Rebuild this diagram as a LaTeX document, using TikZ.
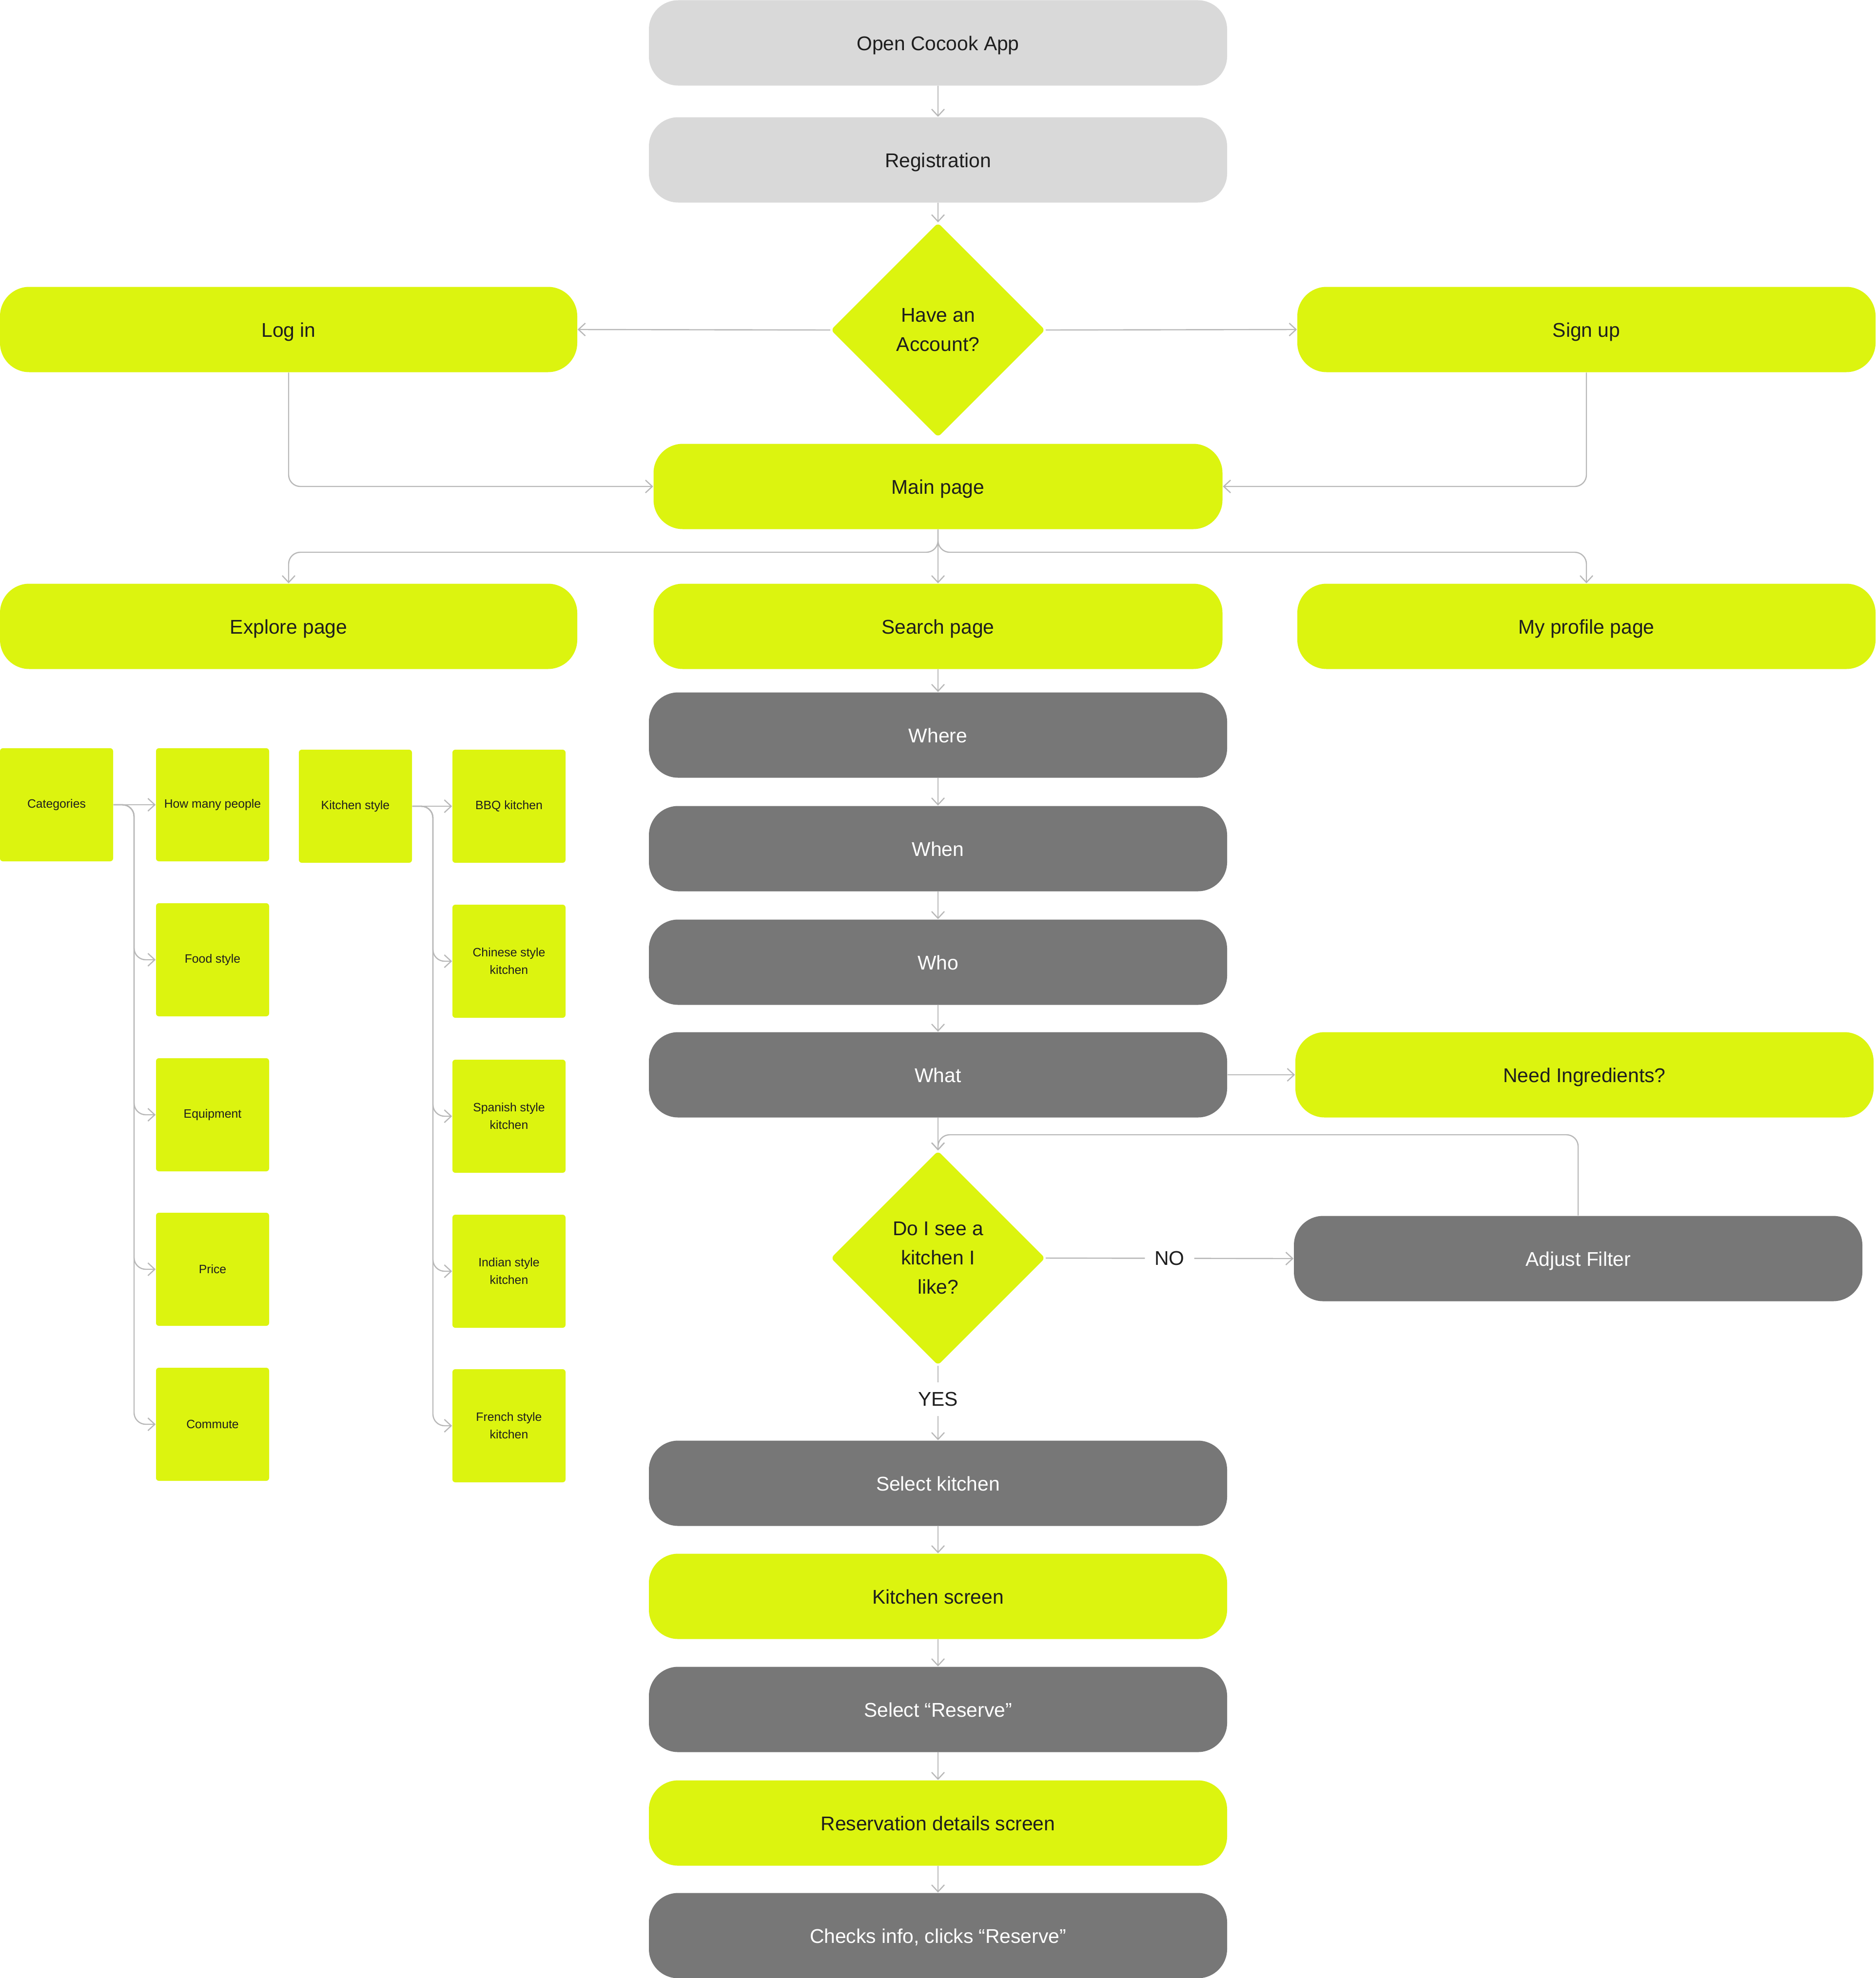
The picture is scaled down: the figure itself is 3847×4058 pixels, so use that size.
\documentclass[tikz,border=0pt]{standalone}
\usepackage{fontspec}
\setmainfont{Liberation Sans}
\usetikzlibrary{shapes.geometric,arrows.meta}
\definecolor{lime}{HTML}{DCF40F}
\definecolor{boxgray}{HTML}{D9D9D9}
\definecolor{boxdark}{HTML}{777777}
\definecolor{linegray}{HTML}{B8B8B8}
\definecolor{ink}{HTML}{1E1E1E}
\newcommand{\bigtxt}{\fontsize{10.2pt}{15pt}\selectfont}
\newcommand{\smalltxt}{\fontsize{6.2pt}{9pt}\selectfont}
\tikzset{
  pill/.style={rounded corners=15pt, minimum height=43.75pt, inner sep=0pt, font=\bigtxt, align=center, text height=9pt, text depth=1.2pt},
  lightbox/.style={pill, fill=boxgray, text=ink, minimum width=296.5pt},
  limebox/.style={pill, fill=lime, text=ink},
  darkbox/.style={pill, fill=boxdark, text=white, minimum width=296.5pt},
  sqbox/.style={fill=lime, rounded corners=1.5pt, minimum width=58pt, minimum height=58pt, inner sep=0pt, font=\smalltxt, align=center, text=ink},
  dia/.style={diamond, aspect=1, fill=lime, minimum width=110pt, minimum height=110pt, inner sep=0pt, font=\bigtxt, align=center, text=ink, rounded corners=2pt},
  conn/.style={draw=linegray, line width=0.6pt, -{Straight Barb[length=3.5pt,width=6.5pt]}, rounded corners=6pt},
  lbl/.style={fill=white, inner sep=5pt, font=\bigtxt, text=ink},
}
\begin{document}
\begin{tikzpicture}[x=0.25pt,y=-0.25pt]
\fill[white] (0,0) rectangle (3847,4058);
\useasboundingbox (0,0) rectangle (3847,4058);

% main column
\node[lightbox] (open) at (1924,88) {Open Cocook App};
\node[lightbox] (reg) at (1924,328) {Registration};
\node[dia] (d1) at (1924,677) {Have an\\Account?};
\node[limebox, minimum width=296pt] (login) at (592,676) {Log in};
\node[limebox, minimum width=296.5pt] (signup) at (3254,676) {Sign up};
\node[limebox, minimum width=291.75pt] (main) at (1924,998) {Main page};
\node[limebox, minimum width=296pt] (explore) at (592,1285) {Explore page};
\node[limebox, minimum width=291.75pt] (search) at (1924,1285) {Search page};
\node[limebox, minimum width=296.5pt] (profile) at (3254,1285) {My profile page};
\node[darkbox] (where) at (1924,1508) {Where};
\node[darkbox] (when) at (1924,1741) {When};
\node[darkbox] (who) at (1924,1974) {Who};
\node[darkbox] (what) at (1924,2205) {What};
\node[limebox, minimum width=296.5pt] (need) at (3250,2205) {Need Ingredients?};
\node[dia] (d2) at (1924,2581) {Do I see a\\kitchen I\\like?};
\node[darkbox, minimum width=291.5pt] (adjust) at (3237,2582) {Adjust Filter};
\node[darkbox] (selk) at (1924,3043) {Select kitchen};
\node[limebox, minimum width=296.5pt] (kscreen) at (1924,3275) {Kitchen screen};
\node[darkbox] (selr) at (1924,3507) {Select “Reserve”};
\node[limebox, minimum width=296.5pt] (resd) at (1924,3740) {Reservation details screen};
\node[darkbox] (checks) at (1924,3971) {Checks info, clicks “Reserve”};

% left square boxes
\node[sqbox] (cat) at (116,1651) {Categories};
\node[sqbox] (hmp) at (436,1651) {How many people};
\node[sqbox] (food) at (436,1969) {Food style};
\node[sqbox] (equip) at (436,2287) {Equipment};
\node[sqbox] (price) at (436,2604) {Price};
\node[sqbox] (commute) at (436,2922) {Commute};
\node[sqbox] (ks) at (729,1654) {Kitchen style};
\node[sqbox] (bbq) at (1044,1654) {BBQ kitchen};
\node[sqbox] (chinese) at (1044,1972) {Chinese style\\kitchen};
\node[sqbox] (spanish) at (1044,2290) {Spanish style\\kitchen};
\node[sqbox] (indian) at (1044,2608) {Indian style\\kitchen};
\node[sqbox] (french) at (1044,2925) {French style\\kitchen};

% helper coordinates
\coordinate (mbr) at (1924,1133);
\coordinate (loopy) at (1924,2328);
\coordinate (catbus) at (275,1651);
\coordinate (ksbus) at (888,1654);

% connectors
\draw[conn] (open) -- (reg);
\draw[conn] (reg) -- (d1.north);
\draw[conn] (d1.west) -- (login.east);
\draw[conn] (d1.east) -- (signup.west);
\draw[conn] (login.south) |- (main.west);
\draw[conn] (signup.south) |- (main.east);
\draw[conn] (main.south) -- (search.north);
\draw[conn] (main.south) -- (mbr) -| (explore.north);
\draw[conn] (main.south) -- (mbr) -| (profile.north);
\draw[conn] (search) -- (where);
\draw[conn] (where) -- (when);
\draw[conn] (when) -- (who);
\draw[conn] (who) -- (what);
\draw[conn] (what.east) -- (need.west);
\draw[conn] (what.south) -- (d2.north);
\draw[conn] (adjust.north) |- (loopy) -- (d2.north);
\draw[conn] (d2.east) -- node[lbl] (no) {NO} (adjust.west);
\draw[conn] (d2.south) -- node[lbl, pos=0.45] (yes) {YES} (selk.north);
\draw[conn] (selk) -- (kscreen);
\draw[conn] (kscreen) -- (selr);
\draw[conn] (selr) -- (resd);
\draw[conn] (resd) -- (checks);

% category trees
\draw[conn] (cat.east) -- (hmp.west);
\foreach \t in {food,equip,price,commute}
  \draw[conn] (cat.east) -- (catbus) |- (\t.west);
\draw[conn] (ks.east) -- (bbq.west);
\foreach \t in {chinese,spanish,indian,french}
  \draw[conn] (ks.east) -- (ksbus) |- (\t.west);
\end{tikzpicture}
\end{document}
